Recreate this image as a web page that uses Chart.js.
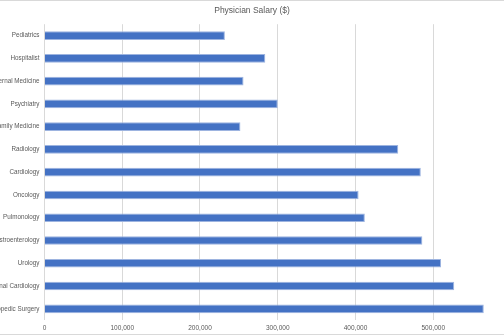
<!DOCTYPE html>
<html>
<head>
<meta charset="utf-8">
<script src="https://cdn.jsdelivr.net/npm/chart.js@4/dist/chart.umd.min.js"></script>
<style>
  html, body { margin: 0; padding: 0; background: #fff; overflow: hidden; }
  #wrap { position: relative; width: 504px; height: 336px; }
  .edge { position: absolute; left: 0; width: 504px; height: 1px; background: #d9d9d9; }
</style>
</head>
<body>
<div id="wrap">
  <canvas id="salary" width="504" height="336"></canvas>
  <div class="edge" style="top:0"></div>
  <div class="edge" style="top:334px"></div>
</div>
<script>
// physician salaries
var specialties = ['Pediatrics', 'Hospitalist', 'Internal Medicine', 'Psychiatry', 'Family Medicine',
    'Radiology', 'Cardiology', 'Oncology', 'Pulmonology', 'Gastroenterology', 'Urology',
    'Interventional Cardiology', 'Orthopedic Surgery'];
var salaries = [232000, 284000, 256000, 300000, 252000, 455000, 484000, 404000, 412000, 486000, 510000, 527000, 565000];
var xTicks = [0, 100000, 200000, 300000, 400000, 500000];

var grey = '#595959';
var narrow = "'Liberation Sans Narrow', 'Liberation Sans', sans-serif";

var ctx = document.getElementById('salary').getContext('2d');
new Chart(ctx, {
    type: 'bar',
    data: {
        labels: specialties,
        datasets: [{
            label: 'Salary',
            data: salaries,
            backgroundColor: '#4472C4',
            borderColor: '#9db4e0',
            borderWidth: 1,
            barPercentage: 0.38,
            categoryPercentage: 1
        }]
    },
    options: {
        indexAxis: 'y',
        responsive: false,
        animation: false,
        layout: { padding: { left: 0, right: 0, top: 0, bottom: 0 } },
        plugins: {
            legend: { display: false },
            tooltip: { enabled: false },
            title: {
                display: true,
                text: 'Physician Salary ($)',
                color: grey,
                font: { family: 'Liberation Sans', size: 8.5, weight: 'normal' },
                padding: { top: 6, bottom: 8 }
            }
        },
        scales: {
            x: {
                min: 0,
                max: 591000,
                afterBuildTicks: function (scale) {
                    scale.ticks = xTicks.map(function (v) { return { value: v }; });
                },
                grid: { color: '#d9d9d9', drawTicks: false },
                border: { display: false },
                ticks: {
                    color: grey,
                    padding: 4,
                    font: { family: narrow, size: 6.5 },
                    callback: function (v) { return v.toLocaleString('en-US'); }
                }
            },
            y: {
                afterFit: function (scale) { scale.width = 44.5; },
                grid: { display: false, drawTicks: false },
                border: { display: false },
                ticks: {
                    color: grey,
                    padding: 5,
                    autoSkip: false,
                    font: { family: narrow, size: 6.3 }
                }
            }
        }
    }
});
</script>
</body>
</html>
